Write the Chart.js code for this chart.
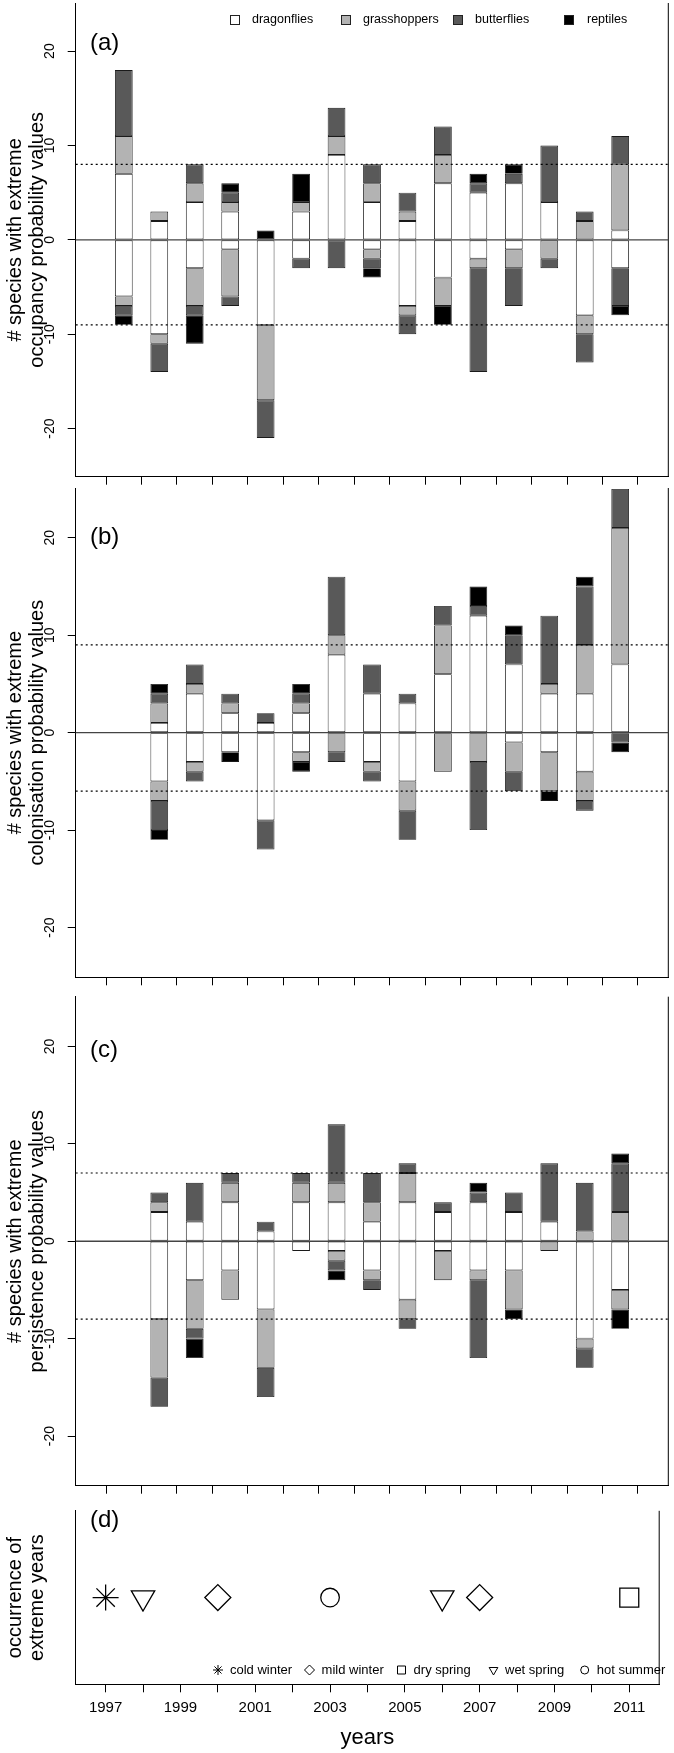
<!DOCTYPE html>
<html><head><meta charset="utf-8">
<script src="https://cdn.jsdelivr.net/npm/chart.js@4"></script>
<style>
html,body{margin:0;padding:0;background:#fff;}
body{width:674px;height:1753px;position:relative;overflow:hidden;}
canvas{position:absolute;left:0;}
</style></head><body>
<canvas id="ca"></canvas>
<canvas id="cb"></canvas>
<canvas id="cc"></canvas>
<canvas id="cd"></canvas>
<script>
// ---------- DATA ----------
const years = [1997,1998,1999,2000,2001,2002,2003,2004,2005,2006,2007,2008,2009,2010,2011];
const yTicks = [-20,-10,0,10,20];
const groups = ['dragonflies','grasshoppers','butterflies','reptiles'];

// (a) occupancy
const occDragonfliesPos   = [7,2,4,3,0,3,9,4,2,6,5,6,4,0,1];
const occGrasshoppersPos  = [4,1,2,1,0,1,2,2,1,3,0,0,0,2,7];
const occButterfliesPos   = [7,0,2,1,0,0,3,2,2,3,1,1,6,1,3];
const occReptilesPos      = [0,0,0,1,1,3,0,0,0,0,1,1,0,0,0];
const occDragonfliesNeg   = [-6,-10,-3,-1,-9,-2,0,-1,-7,-4,-2,-1,0,-8,-3];
const occGrasshoppersNeg  = [-1,-1,-4,-5,-8,0,0,-1,-1,-3,-1,-2,-2,-2,0];
const occButterfliesNeg   = [-1,-3,-1,-1,-4,-1,-3,-1,-2,0,-11,-4,-1,-3,-4];
const occReptilesNeg      = [-1,0,-3,0,0,0,0,-1,0,-2,0,0,0,0,-1];
const occThresholds = [8,-9];

// (b) colonisation
const colDragonfliesPos   = [0,1,4,2,1,2,8,4,3,6,12,7,4,4,7];
const colGrasshoppersPos  = [0,2,1,1,0,1,2,0,0,5,0,0,1,5,14];
const colButterfliesPos   = [0,1,2,1,1,1,6,3,1,2,1,3,7,6,4];
const colReptilesPos      = [0,1,0,0,0,1,0,0,0,0,2,1,0,1,0];
const colDragonfliesNeg   = [0,-5,-3,-2,-9,-2,0,-3,-5,0,0,-1,-2,-4,0];
const colGrasshoppersNeg  = [0,-2,-1,0,0,-1,-2,-1,-3,-4,-3,-3,-4,-3,0];
const colButterfliesNeg   = [0,-3,-1,0,-3,0,-1,-1,-3,0,-7,-2,0,-1,-1];
const colReptilesNeg      = [0,-1,0,-1,0,-1,0,0,0,0,0,0,-1,0,-1];
const colThresholds = [9,-6];

// (c) persistence
const perDragonfliesPos   = [0,3,2,4,1,4,4,2,4,3,4,3,2,0,0];
const perGrasshoppersPos  = [0,1,0,2,0,2,2,2,3,0,0,0,0,1,3];
const perButterfliesPos   = [0,1,4,1,1,1,6,3,1,1,1,2,6,5,5];
const perReptilesPos      = [0,0,0,0,0,0,0,0,0,0,1,0,0,0,1];
const perDragonfliesNeg   = [0,-8,-4,-3,-7,-1,-1,-3,-6,-1,-3,-3,0,-10,-5];
const perGrasshoppersNeg  = [0,-6,-5,-3,-6,0,-1,-1,-2,-3,-1,-4,-1,-1,-2];
const perButterfliesNeg   = [0,-3,-1,0,-3,0,-1,-1,-1,0,-8,0,0,-2,0];
const perReptilesNeg      = [0,0,-2,0,0,0,-1,0,0,0,0,-1,0,0,-2];
const perThresholds = [7,-8];

// (d) extreme years
const coldWinterYears = [1997];
const mildWinterYears = [2000,2007];
const drySpringYears  = [2011];
const wetSpringYears  = [1998,2006];
const hotSummerYears  = [2003];

// ---------- STYLE ----------
Chart.defaults.font.family = "'Liberation Sans', Arial, Helvetica, sans-serif";
Chart.defaults.color = '#000';
const FILL = {dragonflies:'#ffffff', grasshoppers:'#b3b3b3', butterflies:'#595959', reptiles:'#000000'};
const FONT = "'Liberation Sans', Arial, Helvetica, sans-serif";
const W = 674, AXIS_W = 75.7, PAD_R = 674 - 668.3;

function drawSym(ctx, type, x, y, r) {
  ctx.beginPath();
  if (type === 'star') {
    ctx.moveTo(x, y - r); ctx.lineTo(x, y + r);
    ctx.moveTo(x - r, y); ctx.lineTo(x + r, y);
    const d = r * Math.SQRT1_2;
    ctx.moveTo(x - d, y - d); ctx.lineTo(x + d, y + d);
    ctx.moveTo(x - d, y + d); ctx.lineTo(x + d, y - d);
  } else if (type === 'diamond') {
    ctx.moveTo(x, y - r); ctx.lineTo(x + r, y); ctx.lineTo(x, y + r); ctx.lineTo(x - r, y); ctx.closePath();
  } else if (type === 'square') {
    ctx.rect(x - r * 0.8, y - r * 0.8, r * 1.6, r * 1.6);
  } else if (type === 'tri') {
    ctx.moveTo(x - r * 0.87, y - r * 0.5); ctx.lineTo(x + r * 0.87, y - r * 0.5); ctx.lineTo(x, y + r); ctx.closePath();
  } else if (type === 'circle') {
    ctx.arc(x, y, r * 0.8, 0, Math.PI * 2);
  }
  ctx.stroke();
}

const decor = {
  id: 'decor',
  afterDatasetsDraw(chart, args, o) {
    const {ctx, chartArea: ca, scales} = chart;
    const ys = scales.y;
    ctx.save();
    // right border
    ctx.strokeStyle = '#000'; ctx.lineWidth = 1;
    ctx.beginPath(); ctx.moveTo(ca.right, ca.top); ctx.lineTo(ca.right, ca.bottom); ctx.stroke();
    // zero line
    if (o.zero) {
      const py = ys.getPixelForValue(0);
      ctx.strokeStyle = '#444'; ctx.lineWidth = 1.4;
      ctx.beginPath(); ctx.moveTo(ca.left, py); ctx.lineTo(ca.right, py); ctx.stroke();
    }
    // thresholds
    (o.thresholds || []).forEach(t => {
      const py = ys.getPixelForValue(t);
      ctx.strokeStyle = '#000'; ctx.lineWidth = 1.2; ctx.setLineDash([2, 3]);
      ctx.beginPath(); ctx.moveTo(ca.left, py); ctx.lineTo(ca.right, py); ctx.stroke();
      ctx.setLineDash([]);
    });
    ctx.fillStyle = '#000';
    // y tick labels (rotated)
    if (o.yLabels) {
      ctx.font = '14px ' + FONT; ctx.textAlign = 'center'; ctx.textBaseline = 'middle';
      yTicks.forEach(v => {
        const py = ys.getPixelForValue(v);
        ctx.save(); ctx.translate(50, py); ctx.rotate(-Math.PI / 2); ctx.fillText(String(v), 0, 0); ctx.restore();
      });
    }
    // y title
    if (o.title) {
      ctx.font = '20px ' + FONT; ctx.textAlign = 'center'; ctx.textBaseline = 'middle';
      const cy = (ca.top + ca.bottom) / 2;
      o.title.forEach((line, i) => {
        ctx.save(); ctx.translate(15 + i * 22, cy); ctx.rotate(-Math.PI / 2); ctx.fillText(line, 0, 0); ctx.restore();
      });
    }
    // panel letter
    if (o.letter) {
      ctx.font = '24px ' + FONT; ctx.textAlign = 'left'; ctx.textBaseline = 'middle';
      ctx.fillText(o.letter, 90, o.letterY);
    }
    // bar legend
    if (o.barLegend) {
      ctx.font = '12.5px ' + FONT; ctx.textAlign = 'left'; ctx.textBaseline = 'middle';
      o.barLegend.forEach(it => {
        ctx.fillStyle = FILL[it.g]; ctx.fillRect(it.sx - 4.5, o.legendY - 4.5, 9, 9);
        ctx.strokeStyle = '#222'; ctx.lineWidth = 1; ctx.strokeRect(it.sx - 4.5, o.legendY - 4.5, 9, 9);
        ctx.fillStyle = '#000'; ctx.fillText(it.g, it.tx, o.legendY);
      });
    }
    // event legend
    if (o.eventLegend) {
      ctx.font = '13px ' + FONT; ctx.textAlign = 'left'; ctx.textBaseline = 'middle';
      ctx.strokeStyle = '#000'; ctx.lineWidth = 1;
      o.eventLegend.forEach(it => {
        drawSym(ctx, it.sym, it.sx, o.legendY, 5);
        ctx.fillText(it.label, it.tx, o.legendY);
      });
    }
    if (o.xTitle) {
      ctx.font = '22px ' + FONT; ctx.textAlign = 'center'; ctx.textBaseline = 'middle';
      ctx.fillText(o.xTitle, (ca.left + ca.right) / 2, o.xTitleY);
    }
    ctx.restore();
  }
};

function xScale(axisH, showLabels) {
  return {
    type: 'linear', min: 1996.2, max: 2011.8, stacked: true,
    afterBuildTicks: s => { s.ticks = years.map(v => ({value: v})); },
    ticks: {display: showLabels, autoSkip: false, maxRotation: 0, minRotation: 0, padding: 7,
            font: {size: 15}, color: '#000',
            callback: v => (v % 2 === 1 ? String(v) : '')},
    grid: {display: true, drawOnChartArea: false, drawTicks: true, tickLength: 8, color: '#000', lineWidth: 1},
    border: {display: true, color: '#000', width: 1},
    afterFit: s => { s.height = axisH; }
  };
}

function setCanvas(id, top, height) {
  const c = document.getElementById(id);
  c.width = W; c.height = height;
  c.style.top = top + 'px'; c.style.width = W + 'px'; c.style.height = height + 'px';
  return c;
}

function barPanel(id, top, height, padTop, axisH, pos, neg, thresholds, extra) {
  const c = setCanvas(id, top, height);
  const datasets = [];
  const mk = (g, arr, sign) => ({
    label: g + sign,
    data: years.map((yr, j) => ({x: yr, y: arr[j] === 0 ? null : arr[j]})),
    backgroundColor: FILL[g], borderColor: '#1a1a1a', borderWidth: 0.9, borderSkipped: false,
    categoryPercentage: 1, barPercentage: 0.5, inflateAmount: 0
  });
  groups.forEach((g, i) => datasets.push(mk(g, pos[i], '+')));
  groups.forEach((g, i) => datasets.push(mk(g, neg[i], '-')));
  new Chart(c, {
    type: 'bar',
    data: {datasets},
    options: {
      responsive: false, animation: false,
      layout: {padding: {top: padTop, right: PAD_R, left: 0, bottom: 0}},
      scales: {
        x: xScale(axisH, false),
        y: {
          min: -25.1, max: 25.1, stacked: true,
          afterBuildTicks: s => { s.ticks = yTicks.map(v => ({value: v})); },
          ticks: {display: false},
          grid: {display: true, drawOnChartArea: false, drawTicks: true, tickLength: 8, color: '#000'},
          border: {display: true, color: '#000', width: 1},
          afterFit: s => { s.width = AXIS_W; }
        }
      },
      plugins: {
        legend: {display: false}, tooltip: {enabled: false},
        decor: Object.assign({zero: true, thresholds, yLabels: true}, extra)
      }
    },
    plugins: [decor]
  });
}

barPanel('ca', 0, 489, 3, 12.3,
  [occDragonfliesPos, occGrasshoppersPos, occButterfliesPos, occReptilesPos],
  [occDragonfliesNeg, occGrasshoppersNeg, occButterfliesNeg, occReptilesNeg],
  occThresholds,
  {title: ['# species with extreme', 'occupancy probability values'], letter: '(a)', letterY: 43,
   legendY: 20,
   barLegend: [{g: 'dragonflies', sx: 235, tx: 252}, {g: 'grasshoppers', sx: 346, tx: 363},
               {g: 'butterflies', sx: 458, tx: 475}, {g: 'reptiles', sx: 569, tx: 587}]});

barPanel('cb', 478, 512, 10, 12.7,
  [colDragonfliesPos, colGrasshoppersPos, colButterfliesPos, colReptilesPos],
  [colDragonfliesNeg, colGrasshoppersNeg, colButterfliesNeg, colReptilesNeg],
  colThresholds,
  {title: ['# species with extreme', 'colonisation probability values'], letter: '(b)', letterY: 59.7});

barPanel('cc', 986, 512, 10.7, 12.3,
  [perDragonfliesPos, perGrasshoppersPos, perButterfliesPos, perReptilesPos],
  [perDragonfliesNeg, perGrasshoppersNeg, perButterfliesNeg, perReptilesNeg],
  perThresholds,
  {title: ['# species with extreme', 'persistence probability values'], letter: '(c)', letterY: 64});

// panel d
(function () {
  const c = setCanvas('cd', 1496, 257);
  const pt = (yrs, style, r, rot) => ({
    data: yrs.map(v => ({x: v, y: 1})),
    pointStyle: style, pointRadius: r, pointRotation: rot || 0,
    pointBorderColor: '#000', pointBackgroundColor: 'rgba(0,0,0,0)', pointBorderWidth: 1.3,
    showLine: false
  });
  new Chart(c, {
    type: 'scatter',
    data: {datasets: [
      Object.assign({label: 'cold winter'}, pt(coldWinterYears, 'star', 13)),
      Object.assign({label: 'mild winter'}, pt(mildWinterYears, 'rectRot', 13)),
      Object.assign({label: 'dry spring'}, pt(drySpringYears, 'rect', 13.4)),
      Object.assign({label: 'wet spring'}, pt(wetSpringYears, 'triangle', 13.5, 180)),
      Object.assign({label: 'hot summer'}, pt(hotSummerYears, 'circle', 9.3))
    ]},
    options: {
      responsive: false, animation: false,
      layout: {padding: {top: 10, right: PAD_R, left: 0, bottom: 0}},
      scales: {
        x: xScale(68.7, true),
        y: {
          min: 0, max: 2,
          ticks: {display: false},
          grid: {display: false, drawTicks: false},
          border: {display: true, color: '#000', width: 1},
          afterFit: s => { s.width = AXIS_W; }
        }
      },
      plugins: {
        legend: {display: false}, tooltip: {enabled: false},
        decor: {
          title: ['occurrence of', 'extreme years'], letter: '(d)', letterY: 24,
          legendY: 174,
          eventLegend: [
            {sym: 'star', label: 'cold winter', sx: 218, tx: 230},
            {sym: 'diamond', label: 'mild winter', sx: 309.5, tx: 321.6},
            {sym: 'square', label: 'dry spring', sx: 401.5, tx: 413.6},
            {sym: 'tri', label: 'wet spring', sx: 493.5, tx: 505},
            {sym: 'circle', label: 'hot summer', sx: 584.7, tx: 596.7}
          ],
          xTitle: 'years', xTitleY: 242
        }
      }
    },
    plugins: [decor]
  });
})();
</script>
</body></html>
